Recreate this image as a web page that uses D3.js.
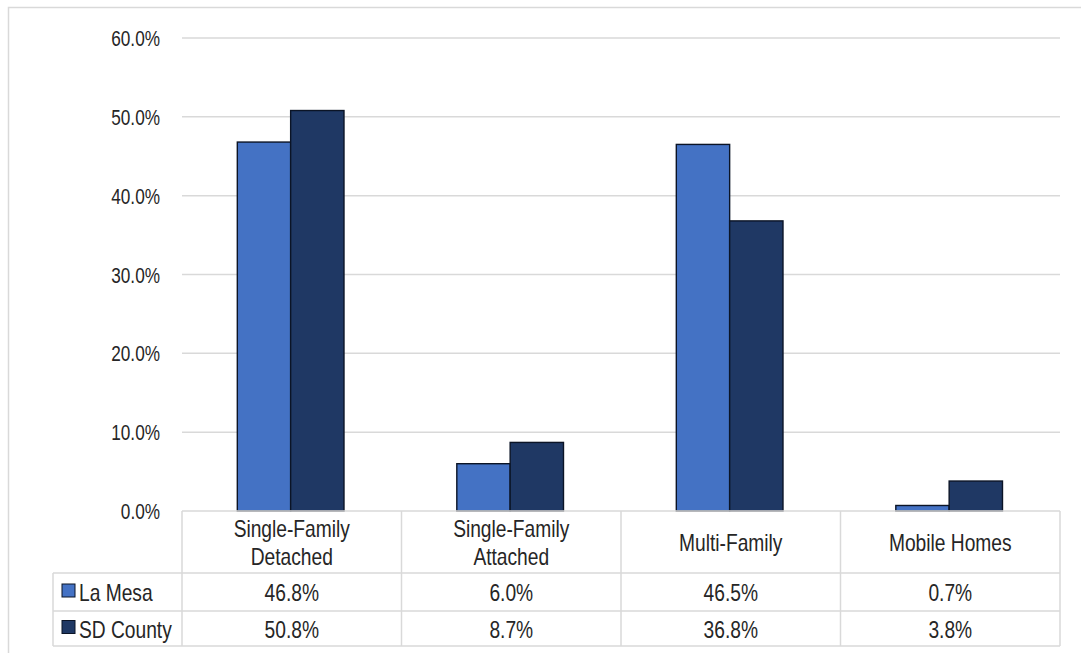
<!DOCTYPE html>
<html>
<head>
<meta charset="utf-8">
<script src="https://cdn.jsdelivr.net/npm/d3@7"></script>
<style>
  html, body { margin: 0; padding: 0; background: #fff; }
  svg { display: block; }
  text { font-family: "Liberation Sans", Arial, sans-serif; fill: #262626; }
</style>
</head>
<body>
<svg id="chart" width="1081" height="653"></svg>
<script>
// Housing stock by unit type: La Mesa vs. San Diego County
const categories = [["Single-Family", "Detached"], ["Single-Family", "Attached"], ["Multi-Family"], ["Mobile Homes"]];
const seriesNames = ["La Mesa", "SD County"];
const laMesa = [46.8, 6.0, 46.5, 0.7];
const sdCounty = [50.8, 8.7, 36.8, 3.8];
const yTicks = [0, 10, 20, 30, 40, 50, 60];
const colors = ["#4472C4", "#1F3864"];

const series = [laMesa, sdCounty];
const svg = d3.select("#chart");

const plot = { left: 182, right: 1060, top: 38, bottom: 511 };
const gridColor = "#d9d9d9";
const narrow = 0.8; // horizontal condensing of the label face
const pct = v => d3.format(".1f")(v) + "%";

// condensed text placed at (x, y)
function label(parent, x, y, str, size, anchor) {
  return parent.append("text")
    .attr("transform", `translate(${x},${y}) scale(${narrow},1)`)
    .attr("dy", "0.35em")
    .attr("text-anchor", anchor || "middle")
    .attr("font-size", size)
    .text(str);
}

// outer frame (top and left edges visible)
svg.append("path")
  .attr("d", "M8.5,653 V7.5 H1081")
  .attr("fill", "none").attr("stroke", gridColor).attr("stroke-width", 1.5);

const x0 = d3.scaleBand()
  .domain(d3.range(categories.length))
  .range([plot.left, plot.right])
  .padding(0);

const x1 = d3.scaleBand()
  .domain(d3.range(seriesNames.length))
  .range([x0.bandwidth() * 0.252, x0.bandwidth() * 0.738])
  .padding(0);

const y = d3.scaleLinear().domain([0, 60]).range([plot.bottom, plot.top]);

// gridlines
svg.append("g")
  .selectAll("line")
  .data(yTicks.filter(d => d > 0))
  .join("line")
  .attr("x1", plot.left).attr("x2", plot.right)
  .attr("y1", d => y(d)).attr("y2", d => y(d))
  .attr("stroke", gridColor).attr("stroke-width", 1.5);

// y axis labels
const yg = svg.append("g");
yTicks.forEach(t => label(yg, 160, y(t) + 0.5, pct(t), 21.5, "end"));

// bars
const groups = svg.append("g")
  .selectAll("g")
  .data(categories.map((c, i) => i))
  .join("g")
  .attr("transform", i => `translate(${x0(i)},0)`);

groups.selectAll("rect")
  .data(i => series.map((s, k) => ({ k, v: s[i] })))
  .join("rect")
  .attr("x", d => x1(d.k))
  .attr("width", x1.bandwidth())
  .attr("y", d => y(d.v))
  .attr("height", d => y(0) - y(d.v))
  .attr("fill", d => colors[d.k])
  .attr("stroke", "#0b1426")
  .attr("stroke-width", 1.4);

// data table below the axis
const table = { labelLeft: 53, headerBottom: 573, rows: [573, 611, 646] };
const tg = svg.append("g").attr("stroke", gridColor).attr("stroke-width", 1.5);
tg.append("line").attr("x1", plot.left).attr("x2", plot.right).attr("y1", plot.bottom).attr("y2", plot.bottom);
table.rows.forEach(ry => {
  tg.append("line").attr("x1", table.labelLeft).attr("x2", plot.right).attr("y1", ry).attr("y2", ry);
});
tg.append("line").attr("x1", table.labelLeft).attr("x2", table.labelLeft).attr("y1", table.rows[0]).attr("y2", table.rows[2]);
const colEdges = d3.range(categories.length).map(i => x0(i)).concat([plot.right]);
colEdges.forEach(cx => {
  tg.append("line").attr("x1", cx).attr("x2", cx).attr("y1", plot.bottom).attr("y2", table.rows[2]);
});

const fontSize = 24;
const tt = svg.append("g");
// category headers
const headerMid = (plot.bottom + table.headerBottom) / 2 + 1;
categories.forEach((lines, i) => {
  const cx = x0(i) + x0.bandwidth() / 2;
  const lh = 28;
  lines.forEach((ln, j) => {
    label(tt, cx, headerMid + (j - (lines.length - 1) / 2) * lh, ln, fontSize);
  });
});

// series rows: legend key + values
seriesNames.forEach((name, k) => {
  const mid = (table.rows[k] + table.rows[k + 1]) / 2 + 1;
  svg.append("rect")
    .attr("x", 62).attr("y", mid - 9)
    .attr("width", 13).attr("height", 13)
    .attr("fill", colors[k])
    .attr("stroke", "#0b1426").attr("stroke-width", 1);
  label(tt, 79, mid, name, fontSize, "start");
  series[k].forEach((v, i) => {
    label(tt, x0(i) + x0.bandwidth() / 2, mid, pct(v), fontSize);
  });
});
</script>
</body>
</html>
